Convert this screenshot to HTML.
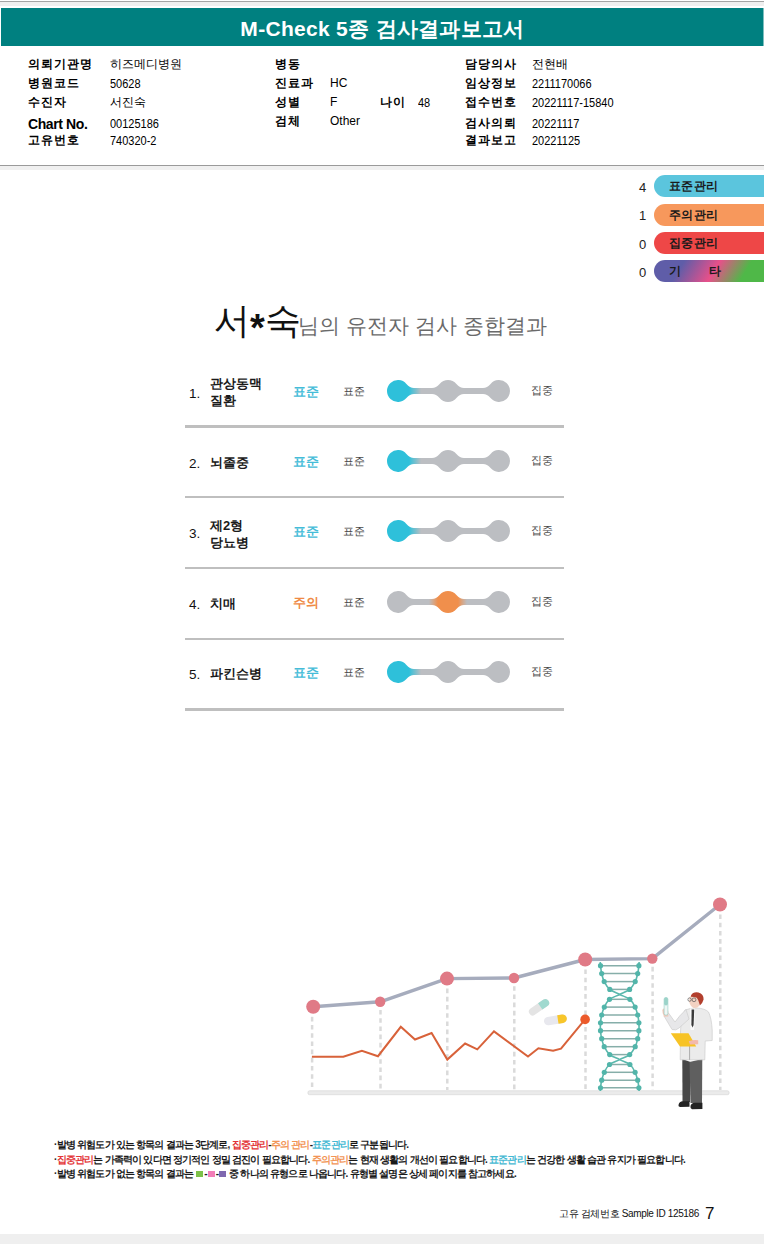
<!DOCTYPE html>
<html><head><meta charset="utf-8">
<style>
*{margin:0;padding:0;box-sizing:border-box}
html,body{width:764px;height:1244px;overflow:hidden;background:#fff}
body{position:relative;font-family:"Liberation Sans",sans-serif;color:#111}
.a{position:absolute;white-space:nowrap}
#topline{left:0;top:1px;width:764px;height:1px;background:#a4a4a4}
#topband{left:0;top:2px;width:764px;height:4px;background:#efefef}
#bar{left:1px;top:8px;width:762px;height:38px;background:#008080}
#barr{left:763px;top:8px;width:1px;height:38px;background:#7fbfbf}
#title{left:0;top:10px;width:764px;height:38px;line-height:38px;text-align:center;color:#fff;font-weight:bold;font-size:21px;letter-spacing:0.3px;padding-left:1px}
.lb{font-weight:bold;font-size:12px;line-height:14px;letter-spacing:1.1px;color:#000}
.vl{font-size:11.5px;line-height:14px;color:#000}
.dg{display:inline-block;font-size:12.5px;transform:scaleX(0.88);transform-origin:0 50%;position:relative;top:1px}
.lt{font-size:12px}
.lg{font-size:13px;line-height:14px;color:#222}
.pill{position:absolute;left:654px;width:110px;height:22px;border-radius:11px 0 0 11px}
.pt{position:absolute;left:669px;font-size:12px;line-height:14px;color:#1a1a1a;letter-spacing:0.3px;font-weight:bold}
#hline{left:0;top:165px;width:764px;height:1px;background:#9a9a9a}
#hband{left:0;top:166px;width:764px;height:4px;background:#f0f0f0}
#bband{left:0;top:1234px;width:764px;height:10px;background:#efefef}

#ttl{left:214px;top:296px;font-size:21px;color:#6a6a6a;line-height:50px}
#ttl i{font-style:normal;font-weight:bold;font-size:38px;position:relative;top:8px;margin:0;line-height:10px}
#ttl b{font-weight:normal;font-size:36px;color:#111}
.num{font-size:13.5px;color:#111;line-height:16px}
.nm{font-weight:bold;font-size:13px;color:#1a1a1a;line-height:17px}
.rs{font-weight:bold;font-size:13px;line-height:16px}
.sm{font-size:10.5px;color:#484848;line-height:12px}
.dv{position:absolute;left:185px;width:379px;height:2px;background:#bfbfbf}

.fn{left:54px;font-size:10px;line-height:12px;color:#1a1a1a;letter-spacing:-0.8px;font-weight:bold}
.cr{color:#e33437}.co{color:#f29455}.cb{color:#45b9d3}
.sq{display:inline-block;width:7px;height:6px;vertical-align:0px;margin:0 1px;letter-spacing:0}
</style></head><body>
<div class="a" id="topline"></div>
<div class="a" id="topband"></div>
<div class="a" id="bar"></div>
<div class="a" id="barr"></div>
<div class="a" id="title">M-Check 5종 검사결과보고서</div>

<!-- col1 -->
<div class="a lb" style="left:28px;top:57px">의뢰기관명</div>
<div class="a lb" style="left:28px;top:76px">병원코드</div>
<div class="a lb" style="left:28px;top:95px">수진자</div>
<div class="a lb" style="left:28px;top:116.5px;font-size:14px;letter-spacing:-0.4px">Chart No.</div>
<div class="a lb" style="left:28px;top:133px">고유번호</div>
<div class="a vl" style="left:110px;top:57px">히즈메디병원</div>
<div class="a vl" style="left:110px;top:76px"><span class="dg">50628</span></div>
<div class="a vl" style="left:110px;top:95px">서진숙</div>
<div class="a vl" style="left:110px;top:116px"><span class="dg">00125186</span></div>
<div class="a vl" style="left:110px;top:133px"><span class="dg">740320-2</span></div>
<!-- col2 -->
<div class="a lb" style="left:275px;top:57px">병동</div>
<div class="a lb" style="left:275px;top:76px">진료과</div>
<div class="a lb" style="left:275px;top:95px">성별</div>
<div class="a lb" style="left:275px;top:114px">검체</div>
<div class="a vl" style="left:330px;top:76px"><span class="lt">HC</span></div>
<div class="a vl" style="left:330px;top:95px"><span class="lt">F</span></div>
<div class="a vl" style="left:330px;top:114px"><span class="lt">Other</span></div>
<div class="a lb" style="left:380px;top:95px">나이</div>
<div class="a vl" style="left:418px;top:95px"><span class="dg">48</span></div>
<!-- col3 -->
<div class="a lb" style="left:465px;top:57px">담당의사</div>
<div class="a lb" style="left:465px;top:76px">임상정보</div>
<div class="a lb" style="left:465px;top:95px">접수번호</div>
<div class="a lb" style="left:465px;top:116px">검사의뢰</div>
<div class="a lb" style="left:465px;top:133px">결과보고</div>
<div class="a vl" style="left:532px;top:57px">전현배</div>
<div class="a vl" style="left:532px;top:76px"><span class="dg">2211170066</span></div>
<div class="a vl" style="left:532px;top:95px"><span class="dg">20221117-15840</span></div>
<div class="a vl" style="left:532px;top:116px"><span class="dg">20221117</span></div>
<div class="a vl" style="left:532px;top:133px"><span class="dg">20221125</span></div>

<div class="a" id="hline"></div>
<div class="a" id="hband"></div>


<div class="pill" style="top:175px;background:#5bc5dd"></div>
<div class="pill" style="top:204px;background:#f7985c"></div>
<div class="pill" style="top:232px;background:#ee4747"></div>
<div class="pill" style="top:260px;background:linear-gradient(121deg,#5f5da8 25%,#e8508a 54%,#4fb848 80%)"></div>
<div class="a lg" style="left:639px;top:181px">4</div>
<div class="a lg" style="left:639px;top:209px">1</div>
<div class="a lg" style="left:639px;top:238px">0</div>
<div class="a lg" style="left:639px;top:266px">0</div>
<div class="pt" style="top:179px">표준관리</div>
<div class="pt" style="top:208px">주의관리</div>
<div class="pt" style="top:236px">집중관리</div>
<div class="pt" style="top:264px">기<span style="display:inline-block;width:28px"></span>타</div>

<div class="a" id="ttl"><b>서<i>*</i>숙</b><span style="margin-left:-2.5px">님의 유전자 검사 종합결과</span></div>
<!--ROWS-->
<div class="a num" style="left:189px;top:386.0px">1.</div>
<div class="a nm" style="left:210px;top:374.5px">관상동맥<br>질환</div>
<div class="a rs" style="left:293px;top:383.5px;color:#45bcd8">표준</div>
<div class="a sm" style="left:343px;top:384.5px">표준</div>
<div class="a sm" style="left:531px;top:384.0px">집중</div>
<svg class="a" style="left:380px;top:376px" width="140" height="30" viewBox="380 376 140 30"><defs><linearGradient id="g0" gradientUnits="userSpaceOnUse" x1="380" y1="0" x2="520" y2="0"><stop offset="0.207" stop-color="#2ec0da"/><stop offset="0.293" stop-color="#bcbec2"/></linearGradient></defs><path d="M406.43,383.93 Q409.84,388 414,388 L432,388 Q436.16,388 439.57,383.93 A11 11 0 0 1 456.43,383.93 Q459.84,388 464,388 L483,388 Q487.16,388 490.57,383.93 A11 11 0 1 1 490.57,398.07 Q487.16,394 483,394 L464,394 Q459.84,394 456.43,398.07 A11 11 0 0 1 439.57,398.07 Q436.16,394 432,394 L414,394 Q409.84,394 406.43,398.07 A11 11 0 1 1 406.43,383.93 Z" fill="url(#g0)"/></svg>
<div class="dv" style="top:425px;height:3px"></div>
<div class="a num" style="left:189px;top:456.0px">2.</div>
<div class="a nm" style="left:210px;top:454.0px">뇌졸중</div>
<div class="a rs" style="left:293px;top:453.5px;color:#45bcd8">표준</div>
<div class="a sm" style="left:343px;top:454.5px">표준</div>
<div class="a sm" style="left:531px;top:454.0px">집중</div>
<svg class="a" style="left:380px;top:446px" width="140" height="30" viewBox="380 446 140 30"><defs><linearGradient id="g1" gradientUnits="userSpaceOnUse" x1="380" y1="0" x2="520" y2="0"><stop offset="0.207" stop-color="#2ec0da"/><stop offset="0.293" stop-color="#bcbec2"/></linearGradient></defs><path d="M406.43,453.93 Q409.84,458 414,458 L432,458 Q436.16,458 439.57,453.93 A11 11 0 0 1 456.43,453.93 Q459.84,458 464,458 L483,458 Q487.16,458 490.57,453.93 A11 11 0 1 1 490.57,468.07 Q487.16,464 483,464 L464,464 Q459.84,464 456.43,468.07 A11 11 0 0 1 439.57,468.07 Q436.16,464 432,464 L414,464 Q409.84,464 406.43,468.07 A11 11 0 1 1 406.43,453.93 Z" fill="url(#g1)"/></svg>
<div class="dv" style="top:496px;height:2px"></div>
<div class="a num" style="left:189px;top:526.0px">3.</div>
<div class="a nm" style="left:210px;top:516.5px">제2형<br>당뇨병</div>
<div class="a rs" style="left:293px;top:523.5px;color:#45bcd8">표준</div>
<div class="a sm" style="left:343px;top:524.5px">표준</div>
<div class="a sm" style="left:531px;top:524.0px">집중</div>
<svg class="a" style="left:380px;top:516px" width="140" height="30" viewBox="380 516 140 30"><defs><linearGradient id="g2" gradientUnits="userSpaceOnUse" x1="380" y1="0" x2="520" y2="0"><stop offset="0.207" stop-color="#2ec0da"/><stop offset="0.293" stop-color="#bcbec2"/></linearGradient></defs><path d="M406.43,523.93 Q409.84,528 414,528 L432,528 Q436.16,528 439.57,523.93 A11 11 0 0 1 456.43,523.93 Q459.84,528 464,528 L483,528 Q487.16,528 490.57,523.93 A11 11 0 1 1 490.57,538.07 Q487.16,534 483,534 L464,534 Q459.84,534 456.43,538.07 A11 11 0 0 1 439.57,538.07 Q436.16,534 432,534 L414,534 Q409.84,534 406.43,538.07 A11 11 0 1 1 406.43,523.93 Z" fill="url(#g2)"/></svg>
<div class="dv" style="top:567px;height:2px"></div>
<div class="a num" style="left:189px;top:597.0px">4.</div>
<div class="a nm" style="left:210px;top:595.0px">치매</div>
<div class="a rs" style="left:293px;top:594.5px;color:#ef8a45">주의</div>
<div class="a sm" style="left:343px;top:595.5px">표준</div>
<div class="a sm" style="left:531px;top:595.0px">집중</div>
<svg class="a" style="left:380px;top:587px" width="140" height="30" viewBox="380 587 140 30"><defs><linearGradient id="g3" gradientUnits="userSpaceOnUse" x1="380" y1="0" x2="520" y2="0"><stop offset="0.350" stop-color="#bcbec2"/><stop offset="0.414" stop-color="#f08f4c"/><stop offset="0.557" stop-color="#f08f4c"/><stop offset="0.621" stop-color="#bcbec2"/></linearGradient></defs><path d="M406.43,594.93 Q409.84,599 414,599 L432,599 Q436.16,599 439.57,594.93 A11 11 0 0 1 456.43,594.93 Q459.84,599 464,599 L483,599 Q487.16,599 490.57,594.93 A11 11 0 1 1 490.57,609.07 Q487.16,605 483,605 L464,605 Q459.84,605 456.43,609.07 A11 11 0 0 1 439.57,609.07 Q436.16,605 432,605 L414,605 Q409.84,605 406.43,609.07 A11 11 0 1 1 406.43,594.93 Z" fill="url(#g3)"/></svg>
<div class="dv" style="top:638px;height:2px"></div>
<div class="a num" style="left:189px;top:667.0px">5.</div>
<div class="a nm" style="left:210px;top:665.0px">파킨슨병</div>
<div class="a rs" style="left:293px;top:664.5px;color:#45bcd8">표준</div>
<div class="a sm" style="left:343px;top:665.5px">표준</div>
<div class="a sm" style="left:531px;top:665.0px">집중</div>
<svg class="a" style="left:380px;top:657px" width="140" height="30" viewBox="380 657 140 30"><defs><linearGradient id="g4" gradientUnits="userSpaceOnUse" x1="380" y1="0" x2="520" y2="0"><stop offset="0.207" stop-color="#2ec0da"/><stop offset="0.293" stop-color="#bcbec2"/></linearGradient></defs><path d="M406.43,664.93 Q409.84,669 414,669 L432,669 Q436.16,669 439.57,664.93 A11 11 0 0 1 456.43,664.93 Q459.84,669 464,669 L483,669 Q487.16,669 490.57,664.93 A11 11 0 1 1 490.57,679.07 Q487.16,675 483,675 L464,675 Q459.84,675 456.43,679.07 A11 11 0 0 1 439.57,679.07 Q436.16,675 432,675 L414,675 Q409.84,675 406.43,679.07 A11 11 0 1 1 406.43,664.93 Z" fill="url(#g4)"/></svg>
<div class="dv" style="top:708px;height:3px"></div>
<!--/ROWS-->


<div class="a fn" style="top:1139px">·발병 위험도가 있는 항목의 결과는 3단계로, <span class="cr">집중관리</span>-<span class="co">주의 관리</span>-<span class="cb">표준관리</span>로 구분됩니다.</div>
<div class="a fn" style="top:1154px">·<span class="cr">집중관리</span>는 가족력이 있다면 정기적인 정밀 검진이 필요합니다. <span class="co">주의관리</span>는 현재 생활의 개선이 필요합니다. <span class="cb">표준관리</span>는 건강한 생활 습관 유지가 필요합니다.</div>
<div class="a fn" style="top:1168px">·발병 위험도가 없는 항목의 결과는 <span class="sq" style="background:#7dc24a"></span>-<span class="sq" style="background:#f27db8"></span>-<span class="sq" style="background:#7f68b0"></span> 중 하나의 유형으로 나옵니다. 유형별 설명은 상세 페이지를 참고하세요.</div>
<div class="a" style="left:559px;top:1207px;font-size:10px;line-height:14px;color:#111;letter-spacing:-0.35px">고유 검체번호 Sample ID 125186</div>
<div class="a" style="left:705px;top:1205px;font-size:17px;line-height:17px;color:#111">7</div>

<!--ILL--><svg class="a" style="left:0;top:880px" width="764" height="240" viewBox="0 880 764 240">
<rect x="308" y="1090.8" width="421" height="3.9" rx="1.5" fill="#ebebeb" stroke="#dadada" stroke-width="0.8"/>
<line x1="312.1" y1="1016.8" x2="312.1" y2="1090" stroke="#dadada" stroke-width="2.5" stroke-dasharray="4.6 3.6"/>
<line x1="380.5" y1="1010.0" x2="380.5" y2="1090" stroke="#dadada" stroke-width="2.5" stroke-dasharray="4.6 3.6"/>
<line x1="447.3" y1="988.6" x2="447.3" y2="1090" stroke="#dadada" stroke-width="2.5" stroke-dasharray="4.6 3.6"/>
<line x1="514.3" y1="986.2" x2="514.3" y2="1090" stroke="#dadada" stroke-width="2.5" stroke-dasharray="4.6 3.6"/>
<line x1="585.5" y1="969.5" x2="585.5" y2="1090" stroke="#dadada" stroke-width="2.5" stroke-dasharray="4.6 3.6"/>
<line x1="652.5999999999999" y1="966.8000000000001" x2="652.5999999999999" y2="1090" stroke="#dadada" stroke-width="2.5" stroke-dasharray="4.6 3.6"/>
<line x1="720.3" y1="914.5" x2="720.3" y2="1090" stroke="#dadada" stroke-width="2.5" stroke-dasharray="4.6 3.6"/>
<polyline fill="none" stroke="#d8623a" stroke-width="2" stroke-linejoin="miter" points="311.9,1056.8 343.3,1056.8 361.9,1050.7 378,1056.2 400.8,1026.8 415,1039.5 431.6,1033 447.3,1059.6 465.1,1043.5 477.3,1049.4 494,1031.4 528,1056.5 538.4,1048.3 553.1,1050.8 561,1048.7 585.1,1019.4"/>
<circle cx="585.1" cy="1019.4" r="4.8" fill="#ec5a2a"/>
<polyline fill="none" stroke="#a6acbd" stroke-width="3.4" stroke-linejoin="round" points="313.2,1006.8 380.2,1001.8 447,978.6 514,978 585.2,959.5 652.3,958.6 720,904.5"/>
<circle cx="313.2" cy="1006.8" r="7" fill="#e07a86"/>
<circle cx="380.2" cy="1001.8" r="5.2" fill="#e07a86"/>
<circle cx="447" cy="978.6" r="7" fill="#e07a86"/>
<circle cx="514" cy="978" r="5.2" fill="#e07a86"/>
<circle cx="585.2" cy="959.5" r="7" fill="#e07a86"/>
<circle cx="652.3" cy="958.6" r="5.2" fill="#e07a86"/>
<circle cx="720" cy="904.5" r="7" fill="#e07a86"/>
<g transform="translate(539,1007.3) rotate(-34.8)"><rect x="-11.5" y="-3.8" width="23" height="7.6" rx="3.8" fill="#e4e4e4"/><path d="M1.5,-3.8 H7.7 A3.8,3.8 0 0 1 7.7,3.8 H1.5 Z" fill="#a0d9cf"/></g>
<g transform="translate(555.4,1019.9) rotate(-9)"><rect x="-11.5" y="-4.2" width="23" height="8.4" rx="4.2" fill="#e8e8ee"/><path d="M2.5,-4.2 H7.3 A4.2,4.2 0 0 1 7.3,4.2 H2.5 Z" fill="#f8c62a"/></g>
<line x1="600.5" y1="965.7" x2="638.9000000000001" y2="965.7" stroke="#86aea9" stroke-width="1.5"/>
<line x1="601.7" y1="973.6" x2="637.7" y2="973.6" stroke="#86aea9" stroke-width="1.5"/>
<line x1="604.2" y1="981.6" x2="635.2" y2="981.6" stroke="#86aea9" stroke-width="1.5"/>
<line x1="609.8000000000001" y1="989.4" x2="629.6" y2="989.4" stroke="#86aea9" stroke-width="1.5"/>
<line x1="609.5" y1="999.3" x2="629.9000000000001" y2="999.3" stroke="#86aea9" stroke-width="1.5"/>
<line x1="604.3000000000001" y1="1007.1" x2="635.1" y2="1007.1" stroke="#86aea9" stroke-width="1.5"/>
<line x1="601.7" y1="1015" x2="637.7" y2="1015" stroke="#86aea9" stroke-width="1.5"/>
<line x1="600.5" y1="1022.8" x2="638.9000000000001" y2="1022.8" stroke="#86aea9" stroke-width="1.5"/>
<line x1="600.5" y1="1030.7" x2="638.9000000000001" y2="1030.7" stroke="#86aea9" stroke-width="1.5"/>
<line x1="601.7" y1="1038.7" x2="637.7" y2="1038.7" stroke="#86aea9" stroke-width="1.5"/>
<line x1="604.2" y1="1046.7" x2="635.2" y2="1046.7" stroke="#86aea9" stroke-width="1.5"/>
<line x1="609.7" y1="1054.6" x2="629.7" y2="1054.6" stroke="#86aea9" stroke-width="1.5"/>
<line x1="609.5" y1="1064.5" x2="629.9000000000001" y2="1064.5" stroke="#86aea9" stroke-width="1.5"/>
<line x1="604.3000000000001" y1="1072.3" x2="635.1" y2="1072.3" stroke="#86aea9" stroke-width="1.5"/>
<line x1="601.7" y1="1080.2" x2="637.7" y2="1080.2" stroke="#86aea9" stroke-width="1.5"/>
<line x1="600.5" y1="1087.8" x2="638.9000000000001" y2="1087.8" stroke="#86aea9" stroke-width="1.5"/>
<path d="M600.30,962.00 C600.33,962.62 600.27,963.77 600.50,965.70 C600.73,967.63 601.08,970.95 601.70,973.60 C602.32,976.25 602.85,978.97 604.20,981.60 C605.55,984.23 607.22,987.25 609.80,989.40 C612.38,991.55 616.35,992.85 619.70,994.50 C623.05,996.15 627.33,997.20 629.90,999.30 C632.47,1001.40 633.80,1004.48 635.10,1007.10 C636.40,1009.72 637.07,1012.38 637.70,1015.00 C638.33,1017.62 638.70,1020.18 638.90,1022.80 C639.10,1025.42 639.10,1028.05 638.90,1030.70 C638.70,1033.35 638.32,1036.03 637.70,1038.70 C637.08,1041.37 636.53,1044.05 635.20,1046.70 C633.87,1049.35 632.28,1052.45 629.70,1054.60 C627.12,1056.75 623.07,1057.95 619.70,1059.60 C616.33,1061.25 612.07,1062.38 609.50,1064.50 C606.93,1066.62 605.60,1069.68 604.30,1072.30 C603.00,1074.92 602.33,1077.62 601.70,1080.20 C601.07,1082.78 600.73,1086.00 600.50,1087.80 C600.27,1089.60 600.33,1090.47 600.30,1091.00" fill="none" stroke="#5bb8ad" stroke-width="1.6"/>
<path d="M639.10,962.00 C639.07,962.62 639.13,963.77 638.90,965.70 C638.67,967.63 638.32,970.95 637.70,973.60 C637.08,976.25 636.55,978.97 635.20,981.60 C633.85,984.23 632.18,987.25 629.60,989.40 C627.02,991.55 623.05,992.85 619.70,994.50 C616.35,996.15 612.07,997.20 609.50,999.30 C606.93,1001.40 605.60,1004.48 604.30,1007.10 C603.00,1009.72 602.33,1012.38 601.70,1015.00 C601.07,1017.62 600.70,1020.18 600.50,1022.80 C600.30,1025.42 600.30,1028.05 600.50,1030.70 C600.70,1033.35 601.08,1036.03 601.70,1038.70 C602.32,1041.37 602.87,1044.05 604.20,1046.70 C605.53,1049.35 607.12,1052.45 609.70,1054.60 C612.28,1056.75 616.33,1057.95 619.70,1059.60 C623.07,1061.25 627.33,1062.38 629.90,1064.50 C632.47,1066.62 633.80,1069.68 635.10,1072.30 C636.40,1074.92 637.07,1077.62 637.70,1080.20 C638.33,1082.78 638.67,1086.00 638.90,1087.80 C639.13,1089.60 639.07,1090.47 639.10,1091.00" fill="none" stroke="#5bb8ad" stroke-width="1.6"/>
<circle cx="600.5" cy="965.7" r="2.6" fill="#52b5aa"/><circle cx="638.9000000000001" cy="965.7" r="2.6" fill="#52b5aa"/>
<circle cx="601.7" cy="973.6" r="2.6" fill="#52b5aa"/><circle cx="637.7" cy="973.6" r="2.6" fill="#52b5aa"/>
<circle cx="604.2" cy="981.6" r="2.6" fill="#52b5aa"/><circle cx="635.2" cy="981.6" r="2.6" fill="#52b5aa"/>
<circle cx="609.8000000000001" cy="989.4" r="2.6" fill="#52b5aa"/><circle cx="629.6" cy="989.4" r="2.6" fill="#52b5aa"/>
<circle cx="629.9000000000001" cy="999.3" r="2.6" fill="#52b5aa"/><circle cx="609.5" cy="999.3" r="2.6" fill="#52b5aa"/>
<circle cx="635.1" cy="1007.1" r="2.6" fill="#52b5aa"/><circle cx="604.3000000000001" cy="1007.1" r="2.6" fill="#52b5aa"/>
<circle cx="637.7" cy="1015" r="2.6" fill="#52b5aa"/><circle cx="601.7" cy="1015" r="2.6" fill="#52b5aa"/>
<circle cx="638.9000000000001" cy="1022.8" r="2.6" fill="#52b5aa"/><circle cx="600.5" cy="1022.8" r="2.6" fill="#52b5aa"/>
<circle cx="638.9000000000001" cy="1030.7" r="2.6" fill="#52b5aa"/><circle cx="600.5" cy="1030.7" r="2.6" fill="#52b5aa"/>
<circle cx="637.7" cy="1038.7" r="2.6" fill="#52b5aa"/><circle cx="601.7" cy="1038.7" r="2.6" fill="#52b5aa"/>
<circle cx="635.2" cy="1046.7" r="2.6" fill="#52b5aa"/><circle cx="604.2" cy="1046.7" r="2.6" fill="#52b5aa"/>
<circle cx="629.7" cy="1054.6" r="2.6" fill="#52b5aa"/><circle cx="609.7" cy="1054.6" r="2.6" fill="#52b5aa"/>
<circle cx="609.5" cy="1064.5" r="2.6" fill="#52b5aa"/><circle cx="629.9000000000001" cy="1064.5" r="2.6" fill="#52b5aa"/>
<circle cx="604.3000000000001" cy="1072.3" r="2.6" fill="#52b5aa"/><circle cx="635.1" cy="1072.3" r="2.6" fill="#52b5aa"/>
<circle cx="601.7" cy="1080.2" r="2.6" fill="#52b5aa"/><circle cx="637.7" cy="1080.2" r="2.6" fill="#52b5aa"/>
<circle cx="600.5" cy="1087.8" r="2.6" fill="#52b5aa"/><circle cx="638.9000000000001" cy="1087.8" r="2.6" fill="#52b5aa"/>

<g>
<path d="M682.3,1059 L682.5,1102 L690,1102 L690.5,1062 Z" fill="#474747"/>
<path d="M689.5,1062 L690.5,1103 L702,1103 L702.3,1059 Z" fill="#5f5f5f"/>
<path d="M678.5,1105 Q679,1101.5 683,1101.3 L689.5,1101.3 L689.5,1106.8 L680,1107 Q678,1106.6 678.5,1105 Z" fill="#232323"/>
<path d="M690.5,1106 Q691,1103 695,1102.8 L702.4,1102.8 L702.4,1109 L692,1109.2 Q690,1108.5 690.5,1106 Z" fill="#232323"/>
<path d="M685,1010 Q690,1008 697,1008 Q705,1008.5 708.5,1012 Q711.5,1018 712.2,1030 L712.2,1040.5 L705.2,1041 L704.8,1059.8 L680.2,1059.8 L680.5,1032 Q681,1016 685,1010 Z" fill="#ebebeb" stroke="#cdcdcd" stroke-width="0.7"/>
<path d="M686,1009.5 Q679,1016 675,1022 L668.5,1013 L664,1016 L672,1029.5 Q676,1031 679,1028 L689,1019 Z" fill="#e7e7e9" stroke="#cdcdcd" stroke-width="0.7"/>
<line x1="689.6" y1="1046" x2="689.6" y2="1059.8" stroke="#9a9a9a" stroke-width="0.8"/>
<path d="M690,1008.5 L695,1008.5 L694,1030 L690.5,1030 Z" fill="#fafafa"/>
<path d="M691.6,1009.6 L694.2,1009.6 L693.6,1025 L692.6,1027.5 L691.4,1025 Z" fill="#3a3a3a"/>
<path d="M670.8,1033.2 L688.5,1033.2 L696.2,1046.6 L680,1046.6 Z" fill="#f7c325"/>
<path d="M688.8,1041.3 Q693,1039.6 698.2,1040.2 L698.2,1044.2 L690,1044.4 Z" fill="#f3b9ac"/>
<path d="M662.3,1010 Q663,1007.8 666,1008.4 L668.3,1011 L668.3,1016.6 L664,1016.8 Q662.2,1013 662.3,1010 Z" fill="#f2c9bb"/>
<rect x="664.1" y="997.4" width="3.8" height="17.8" rx="1.9" fill="#eef7f5" stroke="#8fcbc1" stroke-width="0.6"/>
<rect x="664.1" y="997.4" width="3.8" height="8" rx="1.9" fill="#9bd3c9"/>
<path d="M689.5,997.5 Q690.5,994.5 695.5,994 Q700,994.5 700,999.5 L699,1006 Q697.5,1008.5 693.5,1008 Q690.5,1006.5 689.2,1002 Z" fill="#f3d2c2"/>
<path d="M691,995.5 Q693,991.5 698.5,992.5 Q703.8,994 703.6,999.5 Q702.5,1003.5 699.8,1005.6 L699,1002.6 Q698.2,999.6 696.8,997.8 Q694,996.8 691,996.8 Z" fill="#b23f2d"/>
<circle cx="689.6" cy="999.6" r="1.7" fill="none" stroke="#444" stroke-width="0.6"/>
<circle cx="694" cy="999.8" r="1.9" fill="none" stroke="#444" stroke-width="0.6"/>
</g>

</svg><!--/ILL-->
<div class="a" id="bband"></div>
</body></html>
